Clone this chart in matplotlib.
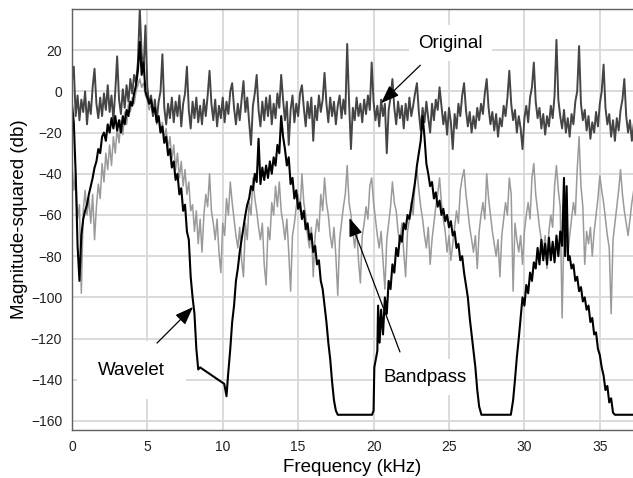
import numpy as np
import matplotlib
matplotlib.use("Agg")
import matplotlib.pyplot as plt

plt.rcParams['font.family'] = ['Liberation Sans', 'DejaVu Sans']

step_khz = 0.125

original_db = [
    5, 12, -12, -2, -14, -4, -10, 0,
    -16, -5, -11, 2, 11, -6, -13, -3,
    -12, -1, -9, 3, -10, -2, -14, 0,
    17, -4, -11, 1, -8, 3, -5, 6,
    -1, 8, 4, 14, 40, 18, 10, 32,
    2, -6, -2, -12, -4, -14, -5, 0,
    18, -8, -16, -6, -13, -3, -15, -5,
    -12, -2, -17, -6, -1, 12, -9, -18,
    -5, -13, -3, -15, -7, -16, -4, -12,
    -2, 10, -6, -14, -4, -17, -7, -13,
    -3, -15, -5, -11, 0, 4, -8, -16,
    -6, -14, -4, 5, -10, -3, -15, -26,
    -7, -1, 8, -9, -17, -5, -14, -3,
    -12, -2, -16, -6, -13, -1, -8, 8,
    -4, -14, -5, -26, -9, -2, -15, -6,
    -12, -1, 3, -8, -17, -5, -13, -3,
    -24, -7, -14, -2, -10, -4, 9, -6,
    -15, -3, -12, -5, -16, -7, -2, -13,
    -4, -11, 23, -5, -28, -8, -14, -3,
    -12, -6, -15, -4, -11, -2, -9, 14,
    -5, -14, -7, -17, -4, -12, -6, -30,
    -9, -3, 6, -8, -16, -5, -13, -7,
    -18, -6, -14, -3, -12, -7, -1, 4,
    -10, -19, -8, -15, -5, -13, -20, -6,
    -14, -4, -9, 2, -7, -16, -10, -21,
    -8, -15, -28, -11, -18, -6, -12, -2,
    4, -9, -17, -10, -20, -12, -18, -8,
    -14, -6, -11, -1, 6, -8, -16, -10,
    -19, -11, -22, -13, -17, -7, -12, -3,
    10, -6, -14, -9, -20, -12, -18, -28,
    -13, -7, -15, -3, 2, 14, -5, -13,
    -8, -18, -11, -21, -12, -17, -7, -13,
    -2, 25, -4, -12, -18, -9, -20, -13,
    -22, -11, -16, -5, 0, 22, -6, -14,
    -9, -19, -12, -23, -15, -20, -10, -17,
    -6, 0, 13, -8, -16, -11, -22, -14,
    -24, -13, -19, -9, -4, 6, -12, -20,
    -14, -24, -16,
]

bandpass_db = [
    -35, -48, -40, -62, -55, -98, -58, -48,
    -60, -52, -64, -50, -72, -56, -45, -52,
    -35, -44, -30, -38, -26, -36, -22, -30,
    -18, -25, -14, -21, -10, -16, -6, -10,
    -3, -6, 0, 3, 6, 2, 4, -2,
    -4, -9, -6, -12, -9, -16, -12, -20,
    -15, -23, -18, -28, -22, -33, -26, -38,
    -30, -42, -34, -46, -38, -50, -44, -58,
    -55, -68, -58, -74, -62, -78, -60, -50,
    -56, -40, -58, -64, -72, -62, -78, -88,
    -64, -70, -52, -60, -44, -54, -62, -70,
    -76, -66, -82, -90, -64, -72, -54, -60,
    -42, -52, -58, -66, -72, -64, -84, -94,
    -66, -72, -54, -60, -46, -56, -44, -58,
    -64, -72, -62, -78, -97, -70, -64, -56,
    -50, -58, -40, -54, -60, -70, -76, -66,
    -90, -70, -62, -68, -50, -58, -42, -54,
    -60, -70, -76, -66, -80, -99, -72, -64,
    -56, -50, -36, -54, -60, -68, -76, -66,
    -82, -93, -70, -64, -56, -62, -46, -42,
    -54, -62, -70, -76, -68, -82, -96, -72,
    -64, -56, -44, -54, -58, -68, -74, -64,
    -78, -90, -68, -62, -54, -60, -44, -38,
    -48, -56, -62, -70, -76, -66, -84, -72,
    -64, -56, -50, -42, -54, -62, -68, -78,
    -70, -82, -74, -66, -58, -64, -48, -42,
    -38, -50, -58, -66, -72, -78, -70, -86,
    -68, -60, -54, -62, -40, -52, -60, -68,
    -74, -80, -72, -90, -70, -62, -54, -60,
    -42, -50, -97, -64, -72, -78, -70, -84,
    -68, -60, -54, -62, -42, -35, -50, -58,
    -66, -72, -78, -70, -86, -68, -60, -66,
    -46, -36, -48, -56, -110, -66, -72, -80,
    -70, -62, -54, -60, -38, -22, -46, -56,
    -84, -68, -74, -66, -80, -68, -60, -52,
    -41, -48, -54, -62, -70, -76, -108, -72,
    -64, -56, -48, -38, -50, -58, -64, -70,
    -62, -54, -48,
]

# wavelet output: own frequency list (flat floor parts need few points)
wavelet_khz = [
    0.0, 0.125, 0.25, 0.375, 0.5, 0.625, 0.75, 0.875,
    1.0, 1.125, 1.25, 1.375, 1.5, 1.625, 1.75, 1.875,
    2.0, 2.125, 2.25, 2.375, 2.5, 2.625, 2.75, 2.875,
    3.0, 3.125, 3.25, 3.375, 3.5, 3.625, 3.75, 3.875,
    4.0, 4.125, 4.25, 4.375, 4.5, 4.625, 4.75, 4.875,
    5.0, 5.125, 5.25, 5.375, 5.5, 5.625, 5.75, 5.875,
    6.0, 6.125, 6.25, 6.375, 6.5, 6.625, 6.75, 6.875,
    7.0, 7.125, 7.25, 7.375, 7.5, 7.625, 7.75, 7.875,
    8.0, 8.125, 8.25, 8.375, 8.5,
    10.1, 10.25, 10.35, 10.5,
    10.625, 10.75, 10.875, 11.0, 11.125, 11.25, 11.375, 11.5, 11.625, 11.75, 11.875,
    12.0, 12.125, 12.25, 12.375, 12.5, 12.625, 12.75, 12.875,
    13.0, 13.125, 13.25, 13.375, 13.5, 13.625, 13.75, 13.875,
    14.0, 14.125, 14.25, 14.375, 14.5, 14.625, 14.75, 14.875,
    15.0, 15.125, 15.25, 15.375, 15.5, 15.625, 15.75, 15.875,
    16.0, 16.125, 16.25, 16.375, 16.5, 16.625, 16.75, 16.875,
    17.0, 17.125, 17.25, 17.375, 17.5, 17.625,
    19.9, 20.0, 20.05, 20.25, 20.3, 20.4,
    20.5, 20.625, 20.75, 20.875,
    21.0, 21.125, 21.25, 21.375, 21.5, 21.625, 21.75, 21.875,
    22.0, 22.125, 22.25, 22.375, 22.5, 22.625, 22.75, 22.875,
    23.0, 23.125, 23.25, 23.375, 23.5, 23.625, 23.75, 23.875,
    24.0, 24.125, 24.25, 24.375, 24.5, 24.625, 24.75, 24.875,
    25.0, 25.125, 25.25, 25.375, 25.5, 25.625, 25.75, 25.875,
    26.0, 26.125, 26.25, 26.375, 26.5, 26.625, 26.75, 26.875,
    27.0, 27.15,
    29.1, 29.25, 29.375, 29.5, 29.625, 29.75, 29.875,
    30.0, 30.125, 30.25, 30.375, 30.5, 30.625, 30.75, 30.875,
    31.0, 31.125, 31.25, 31.375, 31.5, 31.625, 31.75, 31.875,
    32.0, 32.125, 32.25, 32.375, 32.5, 32.625, 32.7, 32.8, 32.9,
    33.0, 33.125, 33.25, 33.375, 33.5, 33.625, 33.75, 33.875,
    34.0, 34.125, 34.25, 34.375, 34.5, 34.625, 34.75, 34.875,
    35.0, 35.125, 35.25, 35.375, 35.5, 35.625, 35.75, 35.875,
    36.0, 37.25,
]
wavelet_db = [
    -6, -15, -40, -75, -92, -70, -62, -58,
    -55, -50, -46, -42, -37, -34, -28, -30,
    -22, -20, -24, -16, -20, -13, -18, -12,
    -19, -14, -20, -12, -16, -9, -12, -5,
    -7, -1, 3, 10, 24, 8, 14, 0,
    -3, -6, -4, -10, -8, -15, -12, -20,
    -17, -25, -22, -31, -28, -37, -34, -43,
    -40, -50, -47, -58, -55, -68, -72, -90,
    -100, -108, -125, -135, -134,
    -142, -148, -138, -125,
    -112, -104, -92, -86, -78, -72, -66, -60, -55, -52, -46,
    -48, -40, -44, -23, -45, -37, -43, -36,
    -42, -34, -40, -32, -36, -26, -30, -12,
    -22, -28, -36, -32, -45, -42, -52, -48,
    -57, -54, -62, -58, -67, -64, -72, -69,
    -78, -75, -84, -82, -92, -96, -104, -112,
    -122, -130, -141, -150, -155, -157,
    -157, -155, -134, -126, -104, -122,
    -106, -118, -100, -108,
    -92, -96, -84, -88, -76, -80, -70, -73,
    -64, -67, -60, -62, -56, -50, -44, -36,
    -30, -24, -12, -22, -35, -40, -46, -44,
    -52, -49, -56, -53, -60, -57, -63, -60,
    -66, -63, -70, -68, -76, -74, -82, -80,
    -88, -94, -100, -110, -118, -126, -134, -145,
    -153, -157,
    -157, -150, -140, -129, -120, -110, -100,
    -104, -94, -98, -88, -92, -83, -86, -76,
    -84, -72, -82, -74, -84, -71, -82, -73,
    -83, -70, -80, -68, -75, -42, -80, -46, -82,
    -80, -86, -84, -92, -90, -97, -95, -102,
    -100, -106, -104, -112, -110, -118, -117, -125,
    -128, -134, -138, -145, -143, -151, -149, -156,
    -157, -157,
]

x_ticks = [0, 5, 10, 15, 20, 25, 30, 35]
y_ticks = [20, 0, -20, -40, -60, -80, -100, -120, -140, -160]

f_orig = np.arange(len(original_db)) * step_khz
f_band = np.arange(len(bandpass_db)) * step_khz

fig = plt.figure(figsize=(6.33, 4.78), dpi=100)
ax = fig.add_axes([0.1136, 0.1004, 0.8864, 0.8808])

ax.plot(f_band, bandpass_db, color='#9a9a9a', lw=1.1, zorder=2)
ax.plot(f_orig, original_db, color='#454545', lw=1.4, zorder=2.1)
ax.plot(wavelet_khz, wavelet_db, color='black', lw=1.5, zorder=2.2)

ax.set_xlim(0, 37.2)
ax.set_ylim(-164.4, 40)
ax.set_xticks(x_ticks)
ax.set_yticks(y_ticks)
ax.grid(True, color='#dadada', lw=1.4)
ax.set_axisbelow(True)
ax.tick_params(length=0, labelsize=10, pad=7, colors='#222222')

for side in ['left', 'top', 'bottom']:
    ax.spines[side].set_color('#606060')
    ax.spines[side].set_linewidth(1.0)
ax.spines['right'].set_visible(False)

ax.set_xlabel("Frequency (kHz)", fontsize=13.5, labelpad=4)
ax.set_ylabel("Magnitude-squared (db)", fontsize=13.5, labelpad=2)

box = dict(boxstyle='square,pad=0.5', fc='white', ec='none')
arrow = dict(arrowstyle='-|>,head_length=0.8,head_width=0.3', color='black',
             lw=0.9, shrinkA=0, shrinkB=0, mutation_scale=14)

ax.text(25.1, 23.4, "Original", fontsize=13.5, ha='center', va='center',
        bbox=box, zorder=1.5)
ax.annotate("", xy=(20.5, -5.7), xytext=(23.1, 12.7), arrowprops=arrow, zorder=3)

ax.text(23.4, -138.7, "Bandpass", fontsize=13.5, ha='center', va='center',
        bbox=box, zorder=1.5)
ax.annotate("", xy=(18.4, -61.5), xytext=(21.75, -126.5), arrowprops=arrow, zorder=3)

ax.text(3.95, -135.3, "Wavelet", fontsize=13.5, ha='center', va='center',
        bbox=dict(boxstyle='square,pad=1.1', fc='white', ec='none'), zorder=1.5)
ax.annotate("", xy=(8.03, -104.7), xytext=(5.64, -122.2), arrowprops=arrow, zorder=3)

fig.savefig("out.png", dpi=100)
